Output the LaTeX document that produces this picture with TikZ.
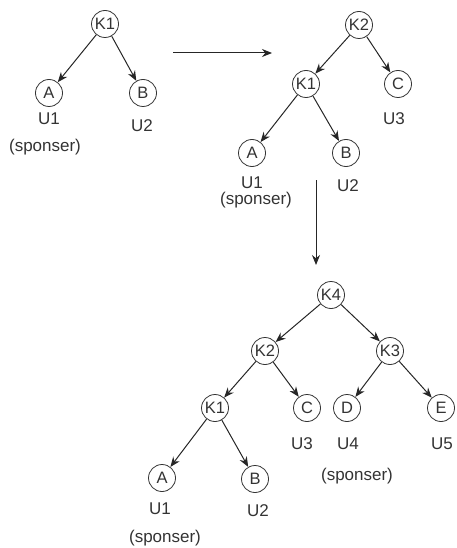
\documentclass[tikz,border=0pt]{standalone}
\usepackage{fontspec}
\setmainfont{Liberation Sans}
\usetikzlibrary{arrows.meta}
\begin{document}
\begin{tikzpicture}[x=1pt,y=-1pt,
 nd/.style={circle,draw=black!80,line width=0.8pt,minimum size=27pt,inner sep=0pt,font=\fontsize{16.5}{16.5}\selectfont,text=black!80},
 lbl/.style={font=\fontsize{17}{17}\selectfont,text=black!80,inner sep=0pt},
 edge/.style={draw=black!85,line width=1pt,-{Stealth[length=10pt,width=8pt]}}]
\useasboundingbox (0,0) rectangle (456,548);
% tree 1
\node[nd] (k1a) at (105,24) {K1};
\node[nd] (a1) at (49,93) {A};
\node[nd] (b1) at (143,93) {B};
\node[lbl] (u1a) at (49,119) {U1};
\node[lbl] (u2a) at (142,126) {U2};
\node[lbl] (sp1) at (45,147) {(sponser)};
\draw[edge] (k1a) -- (a1);
\draw[edge] (k1a) -- (b1);
\coordinate (h1) at (173,53);
\coordinate (h2) at (272,53);
\draw[edge] (h1) -- (h2);
% tree 2
\node[nd] (k2b) at (359,25) {K2};
\node[nd] (k1b) at (306,84) {K1};
\node[nd] (cb) at (398,84) {C};
\node[lbl] (u3b) at (394,119) {U3};
\node[nd] (ab) at (252,153) {A};
\node[nd] (bb) at (346,153) {B};
\node[lbl] (u1b) at (252,183) {U1};
\node[lbl] (spb) at (256,200) {(sponser)};
\node[lbl] (u2b) at (348,186) {U2};
\draw[edge] (k2b) -- (k1b);
\draw[edge] (k2b) -- (cb);
\draw[edge] (k1b) -- (ab);
\draw[edge] (k1b) -- (bb);
\coordinate (v1) at (316,180);
\coordinate (v2) at (316,265);
\draw[edge] (v1) -- (v2);
% tree 3
\node[nd] (k4) at (331,295) {K4};
\node[nd] (k2c) at (265,351) {K2};
\node[nd] (k3) at (390,351) {K3};
\node[nd] (k1c) at (215,408) {K1};
\node[nd] (cc) at (307,408) {C};
\node[nd] (dc) at (347,408) {D};
\node[nd] (ec) at (441,408) {E};
\node[lbl] (u3c) at (302,444) {U3};
\node[lbl] (u4c) at (348,444) {U4};
\node[lbl] (u5c) at (442,444) {U5};
\node[lbl] (spd) at (357,476) {(sponser)};
\node[nd] (ac) at (162,478) {A};
\node[nd] (bc) at (255,479) {B};
\node[lbl] (u1c) at (160,509) {U1};
\node[lbl] (u2c) at (258,511) {U2};
\node[lbl] (spc) at (165,538) {(sponser)};
\draw[edge] (k4) -- (k2c);
\draw[edge] (k4) -- (k3);
\draw[edge] (k2c) -- (k1c);
\draw[edge] (k2c) -- (cc);
\draw[edge] (k3) -- (dc);
\draw[edge] (k3) -- (ec);
\draw[edge] (k1c) -- (ac);
\draw[edge] (k1c) -- (bc);
\end{tikzpicture}
\end{document}
